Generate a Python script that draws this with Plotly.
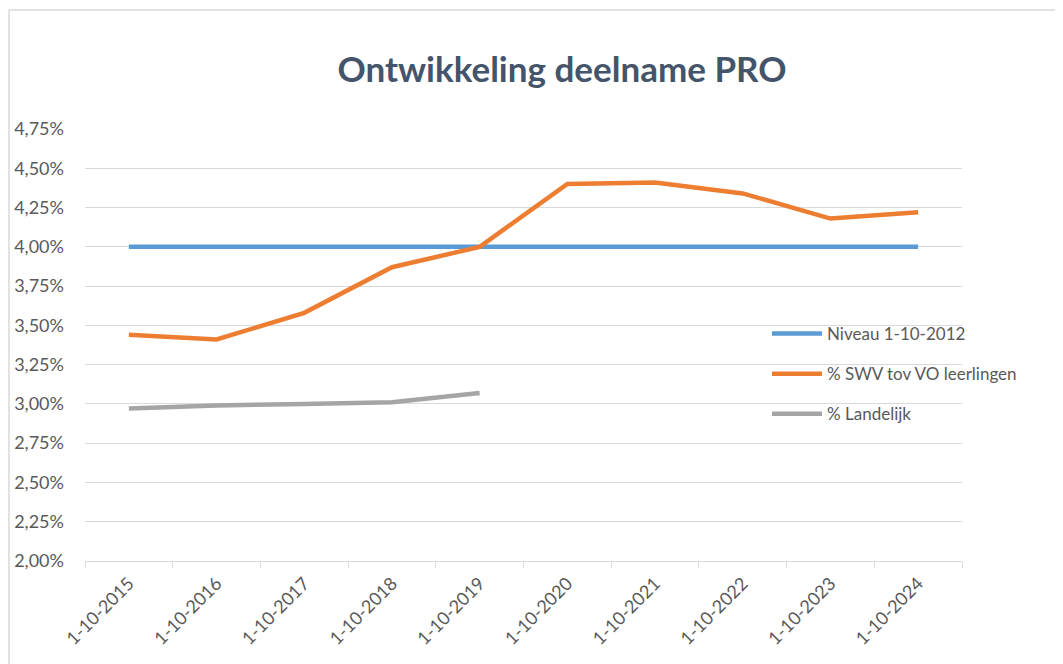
import plotly.graph_objects as go

categories = ["1-10-2015", "1-10-2016", "1-10-2017", "1-10-2018", "1-10-2019",
              "1-10-2020", "1-10-2021", "1-10-2022", "1-10-2023", "1-10-2024"]
niveau_2012 = [0.04] * 10
swv_tov_vo = [0.0344, 0.0341, 0.0358, 0.0387, 0.0400, 0.0440, 0.0441, 0.0434, 0.0418, 0.0422]
landelijk = [0.0297, 0.0299, 0.0300, 0.0301, 0.0307]
y_ticks = [0.02 + 0.0025 * i for i in range(12)]

# page body has an 8px margin; work in reference-pixel coordinates and offset
OFF = 8
W, H = 1063 - OFF, 664 - OFF
ML, MR, MT, MB = 85 - OFF, 101, 129 - OFF, 103
PW, PH = W - ML - MR, H - MT - MB

def px_x(p):
    return (p - OFF - ML) / PW

def px_y(p):
    return (H - MB - (p - OFF)) / PH

font_main = "Lato, 'Open Sans', sans-serif"
txt_color = "#595959"

fig = go.Figure()
fig.add_trace(go.Scatter(x=categories, y=niveau_2012, mode="lines", name="Niveau 1-10-2012",
                         line=dict(color="#5B9BD5", width=4.5), legendgroup="a"))
fig.add_trace(go.Scatter(x=categories, y=swv_tov_vo, mode="lines", name="% SWV tov VO leerlingen",
                         line=dict(color="#ED7D31", width=4.5), legendgroup="b"))
fig.add_trace(go.Scatter(x=categories[:len(landelijk)], y=landelijk, mode="lines", name="% Landelijk",
                         line=dict(color="#A5A5A5", width=4.5), legendgroup="c"))

fig.update_layout(
    width=W, height=H,
    margin=dict(l=ML, r=MR, t=MT, b=MB, autoexpand=False),
    paper_bgcolor="white", plot_bgcolor="white",
    separators=",.",
    title=dict(text="<b>Ontwikkeling deelname PRO</b>", xref="container",
               x=(562 - OFF) / W, xanchor="center",
               y=1 - (70 - OFF) / H, yanchor="middle",
               font=dict(family=font_main, size=35, color="#44546A")),
    font=dict(family=font_main, size=17, color=txt_color),
    legend=dict(x=px_x(767), xanchor="left", y=px_y(316), yanchor="top",
                bgcolor="rgba(0,0,0,0)", font=dict(size=17, color=txt_color),
                itemwidth=50, tracegroupgap=15, traceorder="grouped"),
    showlegend=True,
)
fig.update_xaxes(type="category", range=[-0.5, len(categories) - 0.5], automargin=False,
                 showgrid=False, showline=True, linecolor="#D9D9D9", linewidth=1,
                 ticks="outside", tickson="boundaries", ticklen=6, tickcolor="#D9D9D9",
                 tickangle=-45, ticklabelstandoff=4,
                 tickfont=dict(size=18, color=txt_color), zeroline=False)
fig.update_yaxes(range=[0.02, 0.0475], tickvals=y_ticks, tickformat=".2%", automargin=False,
                 showgrid=True, gridcolor="#D9D9D9", gridwidth=1, zeroline=False,
                 showline=False, ticks="", ticklabelstandoff=20,
                 tickfont=dict(size=18, color=txt_color))

# chart border (top and left edges visible)
fig.add_shape(type="line", xref="paper", yref="paper", x0=px_x(9), x1=px_x(1062),
              y0=px_y(10), y1=px_y(10), line=dict(color="#D9D9D9", width=1.5))
fig.add_shape(type="line", xref="paper", yref="paper", x0=px_x(9), x1=px_x(9),
              y0=px_y(10), y1=px_y(664), line=dict(color="#D9D9D9", width=1.5))

fig.write_html("out.html")
